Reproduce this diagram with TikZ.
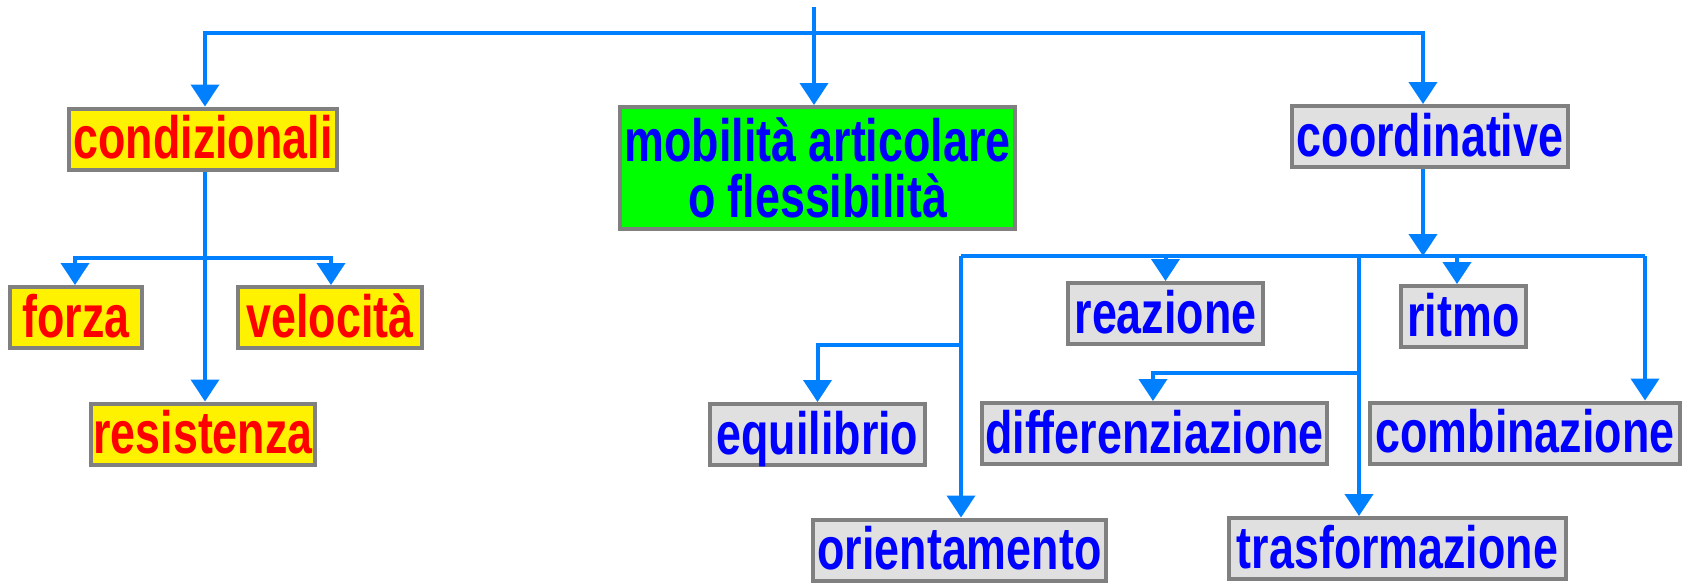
\documentclass[tikz,border=0pt]{standalone}
\usepackage{fontspec}
\setmainfont{Liberation Sans}[FakeStretch=0.75]
\usetikzlibrary{arrows.meta}

\definecolor{linkblue}{RGB}{0,128,255}
\definecolor{boxgray}{RGB}{128,128,128}
\definecolor{palegray}{RGB}{224,224,224}

\tikzset{
  box/.style={draw=boxgray,line width=0.08cm,inner xsep=0pt,inner ysep=0pt,
    font=\fontsize{34}{32}\selectfont\bfseries},
  word/.style={box,minimum height=1.22cm,text height=1.0cm,text depth=0.22cm},
  cond/.style={word,fill=yellow,text=red},
  coord/.style={word,fill=palegray,text=blue},
  link/.style={draw=linkblue,line width=0.08cm},
  arr/.style={link,-{Triangle[width=0.56cm,length=0.44cm]}}
}

\begin{document}
\begin{tikzpicture}[x=0.02cm,y=-0.02cm]
    \useasboundingbox (0,0) rectangle (1690,583);
    \node[box,fill=green,text=blue,align=center,minimum width=7.9cm,minimum height=2.44cm]
      (mob) at (817.5,168) {mobilità articolare\\o flessibilità} ;
    \node[cond,minimum width=5.36cm]  (condiz) at (203,139)   {condizionali} ;
    \node[coord,minimum width=5.52cm] (coordin) at (1430,136.5) {coordinative} ;
    \node[cond,minimum width=2.64cm]  (forza) at (76,317.5)   {forza} ;
    \node[cond,minimum width=3.68cm]  (velo)  at (330,317.5)  {velocità} ;
    \node[cond,minimum width=4.48cm]  (resi)  at (203,434)    {resistenza} ;
    \node[coord,minimum width=3.9cm]  (reaz)  at (1165.5,313.5) {reazione} ;
    \node[coord,minimum width=2.5cm]  (ritmo) at (1463.5,316.5) {ritmo} ;
    \node[coord,minimum width=4.3cm]  (equi)  at (817.5,434.5)  {equilibrio} ;
    \node[coord,minimum width=6.9cm]  (diff)  at (1154.5,433.5) {differenziazione} ;
    \node[coord,minimum width=6.2cm]  (comb)  at (1525,433)     {combinazione} ;
    \node[coord,minimum width=5.86cm] (orie)  at (959.5,550)    {orientamento} ;
    \node[coord,minimum width=6.74cm] (tras)  at (1397.5,548.5) {trasformazione} ;

    % top level
    \coordinate (top)  at (814,7) ;
    \coordinate (hub)  at (814,33) ;
    \draw[arr] (top) -- (mob.north -| top) ;
    \draw[arr] (hub) -| (condiz.north -| 205,0) ;
    \draw[arr] (hub) -| (coordin.north -| 1423,0) ;

    % condizionali
    \coordinate (cfork) at (205,258) ;
    \draw[arr] (condiz.south -| cfork) -- (resi.north -| cfork) ;
    \draw[arr] (cfork) -| (forza.north -| 75,0) ;
    \draw[arr] (cfork) -| (velo.north -| 331,0) ;

    % coordinative
    \coordinate (kfork) at (1423,256) ;
    \coordinate (kleft) at (961,256) ;
    \coordinate (kmid)  at (1359,256) ;
    \coordinate (kright) at (1645,256) ;
    \draw[arr] (coordin.south -| kfork) -- (kfork) ;
    \draw[link] (kleft) -- (kright) ;
    \draw[arr] (kleft) -- (orie.north -| kleft) ;
    \draw[arr] (kmid) -- (tras.north -| kmid) ;
    \draw[arr] (kright) -- (comb.north -| kright) ;
    \draw[arr] (reaz.north |- kleft) -- (reaz) ;
    \draw[arr] (kleft -| 1457,0) -- (ritmo.north -| 1457,0) ;
    \coordinate (efork) at (961,345) ;
    \draw[arr] (efork) -| (equi) ;
    \coordinate (dfork) at (1359,373) ;
    \draw[arr] (dfork) -| (diff.north -| 1153,0) ;
\end{tikzpicture}
\end{document}
